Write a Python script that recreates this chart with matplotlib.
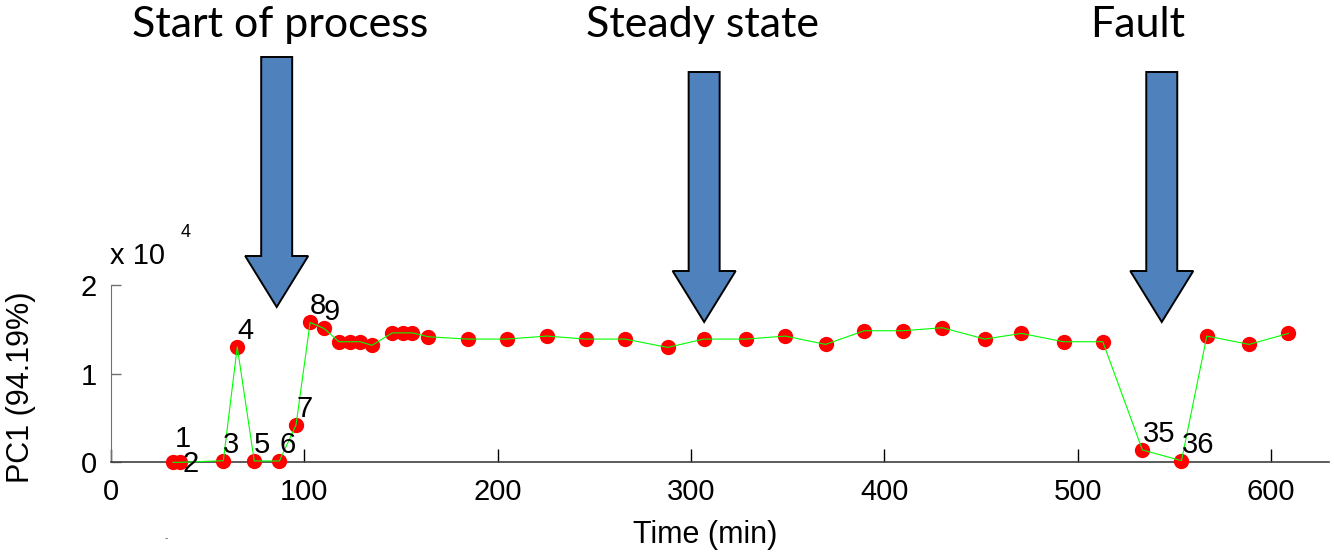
import matplotlib
matplotlib.use("Agg")
import matplotlib.pyplot as plt
from matplotlib.patches import Polygon
from matplotlib.transforms import IdentityTransform

# PC1 score over time (x 10^4)
time_min = [32, 35.7, 58.1, 65.3, 74.1, 87.1, 95.7, 103, 110.2, 117.9,
            123.6, 128.8, 135, 145.5, 151.2, 155.9, 164.2, 184.5, 204.7, 225.4,
            245.5, 265.9, 287.9, 306.6, 328.5, 348.8, 369.6, 389.6, 409.5, 430,
            452, 470.9, 492.7, 513, 533.5, 553.7, 566.8, 588.7, 609]
pc1 = [0.0, 0.0, 0.018, 1.303, 0.015, 0.015, 0.42, 1.578, 1.51, 1.36,
       1.36, 1.36, 1.32, 1.46, 1.46, 1.46, 1.416, 1.39, 1.39, 1.424,
       1.39, 1.39, 1.296, 1.39, 1.39, 1.424, 1.33, 1.484, 1.484, 1.518,
       1.39, 1.454, 1.36, 1.36, 0.139, 0.018, 1.424, 1.33, 1.454]

# which samples get a number, and the pixel offset of the number
labelled = [1, 2, 3, 4, 5, 6, 7, 8, 9, 35, 36]
label_offsets = {1: (2, 23), 2: (2, -2)}
default_offset = (0, 16)

phases = ['Start of process', 'Steady state', 'Fault']
phase_text_x = [280, 703, 1138]        # pixel centres of the captions
phase_arrow_time = [85.7, 306.8, 543.5]  # where each arrow points
phase_arrow_top = [57, 72, 72]         # pixel rows of the shaft tops

W, H = 1334, 556
fig = plt.figure(figsize=(W / 100, H / 100), dpi=100)
ax = fig.add_axes([111 / W, (H - 462.3) / H, 1218 / W, 177.3 / H])

font = 'Liberation Sans'

ax.plot(time_min, pc1, 'o', color='red', markersize=11, markeredgewidth=0,
        zorder=3, clip_on=False)
ax.plot(time_min, pc1, '-', color='#00ff00', linewidth=0.8, zorder=4,
        clip_on=False)

for n in labelled:
    dx, dy = label_offsets.get(n, default_offset)
    ax.annotate(str(n), (time_min[n - 1], pc1[n - 1]), xytext=(dx, dy),
                textcoords='offset pixels', ha='left', va='center',
                fontsize=21, family=font, zorder=5)

ax.set_xlim(0, 630)
ax.set_ylim(0, 2)
ax.set_xticks([0, 100, 200, 300, 400, 500, 600])
ax.set_yticks([0, 1, 2])
ax.set_yticklabels(['0', '1', '2'])

for s in ['top', 'right']:
    ax.spines[s].set_visible(False)
ax.spines['left'].set_color('#707070')
ax.spines['bottom'].set_color('#404040')
ax.spines['bottom'].set_linewidth(1.2)

ax.tick_params(axis='x', direction='in', length=9.5, width=1, color='black',
               pad=11, labelsize=21)
ax.tick_params(axis='y', direction='in', length=7, width=1, color='#707070',
               pad=10, labelsize=21)
for lab in ax.get_xticklabels() + ax.get_yticklabels():
    lab.set_family(font)

ax.set_xlabel('Time (min)', fontsize=22, family=font)
ax.xaxis.set_label_coords((705 - 111) / 1218, -(547 - 462.3 - 4) / 177.3,
                          transform=ax.transAxes)
ax.xaxis.label.set_va('baseline')
ax.set_ylabel('PC1 (94.19%)', fontsize=22, family=font)
ax.yaxis.set_label_coords(-(111 - 36) / 1218, (462.3 - 387) / 177.3)

# exponent of the y axis
fig.text(110 / W, 1 - 263.5 / H, 'x 10', fontsize=21, family=font,
         ha='left', va='baseline')
fig.text(181 / W, 1 - 237 / H, '4', fontsize=13, family=font,
         ha='left', va='baseline')
fig.text(166 / W, 1 - 538 / H, '-', fontsize=7, color='#555555', family=font,
         ha='center', va='center')

# captions and big arrows
for name, cx in zip(phases, phase_text_x):
    fig.text(cx / W, 1 - 37 / H, name, fontsize=31, family='Lato',
             ha='center', va='baseline')

shaft_half, head_half, head_len, arrow_len = 15.5, 31.5, 51, 250
for t, top in zip(phase_arrow_time, phase_arrow_top):
    cx = ax.transData.transform((t, 0))[0]
    top_y = H - top
    tip_y = top_y - arrow_len
    base_y = tip_y + head_len
    pts = [(cx - shaft_half, top_y), (cx + shaft_half, top_y),
           (cx + shaft_half, base_y), (cx + head_half, base_y),
           (cx, tip_y), (cx - head_half, base_y),
           (cx - shaft_half, base_y)]
    fig.patches.append(Polygon(pts, closed=True, facecolor='#4f81bd',
                               edgecolor='black', linewidth=1.4,
                               transform=IdentityTransform(), zorder=10))

fig.savefig('out.png', dpi=100)
